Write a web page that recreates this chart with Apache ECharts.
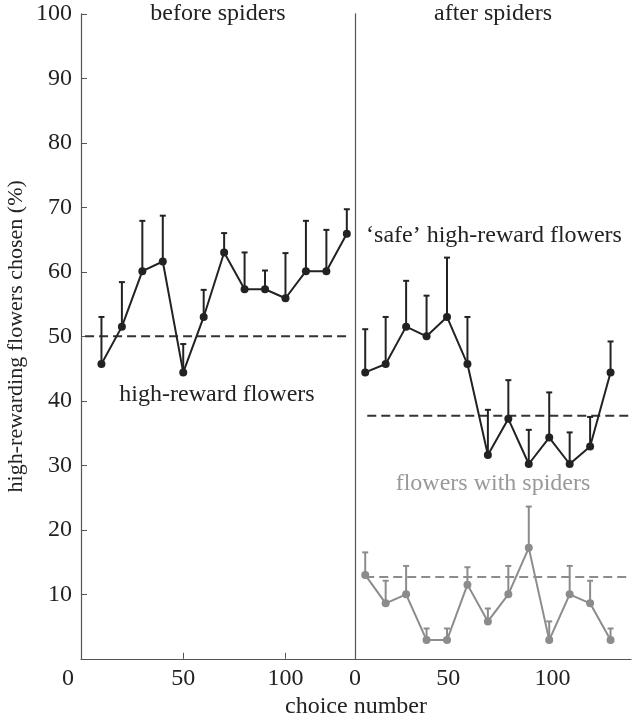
<!DOCTYPE html>
<html>
<head>
<meta charset="utf-8">
<script src="https://cdn.jsdelivr.net/npm/echarts@6/dist/echarts.min.js"></script>
<style>
  html, body { margin: 0; padding: 0; background: #fff; }
</style>
</head>
<body>
<div id="chart" style="width: 632px; height: 723px;"></div>
<script>
  // choice numbers (x) for each panel
  var beforeX = [10, 20, 30, 40, 50, 60, 70, 80, 90, 100, 110, 120, 130];
  var afterX = [5, 15, 25, 35, 45, 55, 65, 75, 85, 95, 105, 115, 125];

  // before spiders: high-reward flowers, mean and top of error bar
  var beforeMean = [45.7, 51.5, 60.1, 61.6, 44.4, 53.0, 63.0, 57.3, 57.3, 55.9, 60.1, 60.1, 65.9];
  var beforeUpper = [53.0, 58.4, 67.9, 68.7, 48.8, 57.2, 66.0, 63.0, 60.2, 62.9, 67.9, 66.5, 69.7];

  // after spiders: 'safe' high-reward flowers
  var safeMean = [44.4, 45.7, 51.5, 50.0, 53.0, 45.7, 31.6, 37.2, 30.2, 34.3, 30.2, 32.9, 44.4];
  var safeUpper = [51.1, 53.0, 58.6, 56.3, 62.2, 53.0, 38.6, 43.2, 35.5, 41.3, 35.1, 37.5, 49.2];

  // after spiders: flowers with spiders
  var spiderMean = [13.0, 8.6, 10.0, 2.9, 2.9, 11.5, 5.8, 10.0, 17.2, 2.9, 10.0, 8.6, 2.9];
  var spiderUpper = [16.5, 12.1, 14.4, 4.7, 4.7, 14.2, 7.8, 14.4, 23.6, 5.8, 14.4, 12.1, 4.7];

  // chance levels (dashed) and the x span they cover
  var beforeLevel = 50;
  var beforeLevelX = [2, 131];
  var safeLevel = 37.7;
  var safeLevelX = [6, 135];
  var spiderLevel = 12.7;
  var spiderLevelX = [5, 135];

  var yTicks = [10, 20, 30, 40, 50, 60, 70, 80, 90, 100];
  var xTicks = [0, 50, 100];

  var font = 'Liberation Serif';
  var black = '#222222';
  var grey = '#8c8c8c';

  function pairs(xs, ys) {
    return xs.map(function (x, i) { return [x, ys[i]]; });
  }
  function triples(xs, ys, tops) {
    return xs.map(function (x, i) { return [x, ys[i], tops[i]]; });
  }
  function level(xs, y) {
    return xs.map(function (x) { return [x, y]; });
  }

  // error bar: line from mean up to upper value, with a small cap
  function errorBars(color) {
    return function (params, api) {
      var p = api.coord([api.value(0), api.value(1)]);
      var t = api.coord([api.value(0), api.value(2)]);
      var style = { stroke: color, lineWidth: 2 };
      return {
        type: 'group',
        children: [
          { type: 'line', shape: { x1: p[0], y1: p[1], x2: t[0], y2: t[1] }, style: style },
          { type: 'line', shape: { x1: t[0] - 3, y1: t[1], x2: t[0] + 3, y2: t[1] }, style: style }
        ]
      };
    };
  }

  function lineSeries(idx, data, color) {
    return {
      type: 'line', xAxisIndex: idx, yAxisIndex: idx, data: data,
      symbol: 'circle', symbolSize: 8, z: 3,
      itemStyle: { color: color },
      lineStyle: { color: color, width: 2 }
    };
  }
  function levelSeries(idx, data, color) {
    return {
      type: 'line', xAxisIndex: idx, yAxisIndex: idx, data: data,
      symbol: 'none', z: 1,
      lineStyle: { color: color, width: 2, type: [9, 5] }
    };
  }
  function errSeries(idx, data, color) {
    return {
      type: 'custom', xAxisIndex: idx, yAxisIndex: idx, data: data, z: 2,
      renderItem: errorBars(color)
    };
  }

  var axisColor = '#555';
  var labelStyle = { fontFamily: font, fontSize: 24, color: black };
  var richLabel = { fontFamily: font, fontSize: 24, color: black };

  var options = {
    backgroundColor: '#fff',
    animation: false,
    grid: [
      { left: 81, top: 13.8, width: 274, height: 645 },
      { left: 355, top: 13.8, width: 276, height: 645 }
    ],
    xAxis: [
      {
        type: 'value', gridIndex: 0, min: 0, max: 134,
        splitLine: { show: false },
        axisLine: { lineStyle: { color: axisColor, width: 1.2 } },
        axisTick: { inside: true, length: 6, customValues: [50, 100], lineStyle: { color: axisColor } },
        axisLabel: Object.assign({
          margin: 8,
          customValues: xTicks,
          // the 0 label sits left of the axis corner, as in the original
          formatter: function (v) { return v === 0 ? '{z|0}' : String(v); },
          rich: { z: Object.assign({ padding: [0, 26, 0, 0] }, richLabel) }
        }, labelStyle)
      },
      {
        type: 'value', gridIndex: 1, min: 0, max: 135,
        splitLine: { show: false },
        axisLine: { lineStyle: { color: axisColor, width: 1.2 } },
        axisTick: { show: false },
        axisLabel: Object.assign({
          margin: 8,
          customValues: xTicks,
          formatter: function (v) {
            if (v === 50) return '{a|50}';
            if (v === 100) return '{b|100}';
            return String(v);
          },
          rich: {
            a: Object.assign({ padding: [0, 18, 0, 0] }, richLabel),
            b: Object.assign({ padding: [0, 14, 0, 0] }, richLabel)
          }
        }, labelStyle)
      }
    ],
    yAxis: [
      {
        type: 'value', gridIndex: 0, min: 0, max: 100, interval: 10,
        splitLine: { show: false },
        axisLine: { show: true, lineStyle: { color: axisColor, width: 1.2 } },
        axisTick: { inside: true, length: 6, customValues: yTicks, lineStyle: { color: axisColor } },
        axisLabel: Object.assign({ margin: 9, customValues: yTicks }, labelStyle),
        name: 'high-rewarding flowers chosen (%)',
        nameLocation: 'middle',
        nameGap: 54,
        nameTextStyle: { fontFamily: font, fontSize: 22, color: black }
      },
      {
        type: 'value', gridIndex: 1, min: 0, max: 100,
        splitLine: { show: false },
        axisLine: { show: true, lineStyle: { color: axisColor, width: 1.2 } },
        axisTick: { show: false },
        axisLabel: { show: false }
      }
    ],
    graphic: [
      { type: 'text', x: 218, y: 14, style: { text: 'before spiders', font: '24px "Liberation Serif"', fill: black, align: 'center', verticalAlign: 'middle' } },
      { type: 'text', x: 493, y: 14, style: { text: 'after spiders', font: '24px "Liberation Serif"', fill: black, align: 'center', verticalAlign: 'middle' } },
      { type: 'text', x: 217, y: 395, style: { text: 'high-reward flowers', font: '24px "Liberation Serif"', fill: black, align: 'center', verticalAlign: 'middle' } },
      { type: 'text', x: 494, y: 236, style: { text: '\u2018safe\u2019 high-reward flowers', font: '24px "Liberation Serif"', fill: black, align: 'center', verticalAlign: 'middle' } },
      { type: 'text', x: 493, y: 484, style: { text: 'flowers with spiders', font: '24px "Liberation Serif"', fill: '#999999', align: 'center', verticalAlign: 'middle' } },
      { type: 'text', x: 356, y: 707, style: { text: 'choice number', font: '24px "Liberation Serif"', fill: black, align: 'center', verticalAlign: 'middle' } }
    ],
    series: [
      levelSeries(0, level(beforeLevelX, beforeLevel), '#333'),
      errSeries(0, triples(beforeX, beforeMean, beforeUpper), black),
      lineSeries(0, pairs(beforeX, beforeMean), black),

      levelSeries(1, level(safeLevelX, safeLevel), '#333'),
      errSeries(1, triples(afterX, safeMean, safeUpper), black),
      lineSeries(1, pairs(afterX, safeMean), black),

      levelSeries(1, level(spiderLevelX, spiderLevel), grey),
      errSeries(1, triples(afterX, spiderMean, spiderUpper), grey),
      lineSeries(1, pairs(afterX, spiderMean), grey)
    ]
  };

  var mycharts = echarts.init(document.getElementById('chart'));
  mycharts.setOption(options);
</script>
</body>
</html>
